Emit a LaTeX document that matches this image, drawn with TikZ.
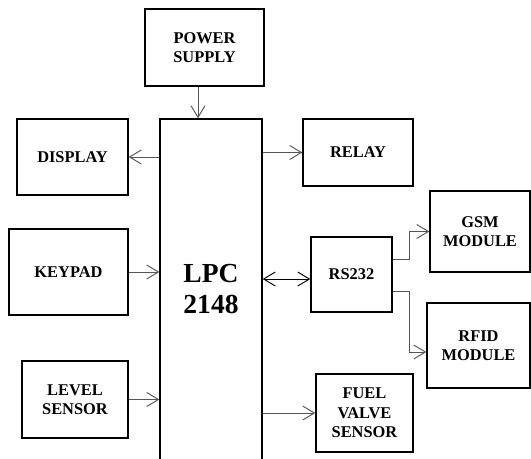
\documentclass[tikz,border=0pt]{standalone}
\usepackage{fontspec}
\setmainfont{Liberation Serif}
\usepackage{tikz}
\usetikzlibrary{arrows.meta,positioning,calc}
\definecolor{wiregray}{RGB}{85,85,85}

\begin{document}
\begin{tikzpicture}[x=0.03cm,y=-0.03cm,
    block/.style={draw,line width=1.2pt,align=center,font=\fontsize{14}{16.5}\selectfont\bfseries},
    link/.style={draw=wiregray,line width=0.8pt,-{Straight Barb[length=0.35cm,width=0.42cm]}},
    duplex/.style={draw=black,line width=0.8pt,{Straight Barb[length=0.35cm,width=0.42cm]}-{Straight Barb[length=0.35cm,width=0.42cm]}}]
    \useasboundingbox (0,0) rectangle (531,459);

    % Controller in the middle (runs off the bottom edge)
    \node[block,minimum width=3.06cm,minimum height=10.83cm] (lpc) at (211,299.5) {};
    \node[align=center,font=\fontsize{23.5}{27}\selectfont\bfseries] (lpcname) at (211,289) {LPC\\2148};

    % Power supply on top
    \node[block,minimum width=3.57cm,minimum height=2.31cm] (power) at (204.5,47.5) {POWER\\SUPPLY};

    % Left side: outputs and inputs
    \node[block,minimum width=3.33cm,minimum height=2.28cm] (display) at (72.5,157) {DISPLAY};
    \node[block,minimum width=3.57cm,minimum height=2.58cm] (keypad) at (68.5,272) {KEYPAD};
    \node[block,minimum width=3.18cm,minimum height=2.31cm] (level) at (75,399.5) {LEVEL\\SENSOR};

    % Right side
    \node[block,minimum width=3.3cm,minimum height=2.01cm] (relay) at (358,152.5) {RELAY};
    \node[block,minimum width=2.43cm,minimum height=2.25cm] (rs232) at (351.5,274.5) {RS232};
    \node[block,minimum width=2.91cm,minimum height=2.34cm] (fuel) at (364.5,413) {FUEL\\VALVE\\SENSOR};

    % Modules behind the serial link
    \node[block,minimum width=3.0cm,minimum height=2.43cm] (gsm) at (480,231.5) {GSM\\MODULE};
    \node[block,minimum width=3.09cm,minimum height=2.55cm] (rfid) at (478.5,345.5) {RFID\\MODULE};

    % Connections
    \draw[link] ([xshift=-0.195cm]power.south) -- ([xshift=-0.195cm]power.south |- lpc.north);
    \draw[link] (lpc.west |- display) -- (display.east);
    \draw[link] (keypad.east) -- (keypad.east -| lpc.west);
    \draw[link] (level.east) -- (level.east -| lpc.west);
    \draw[link] (lpc.east |- relay) -- (relay.west);
    \draw[duplex] ($(lpc.east |- rs232)+(0,4.5)$) -- ($(rs232.west)+(0,4.5)$);
    \draw[link] (lpc.east |- fuel) -- (fuel.west);
    \draw[link] ($(rs232.east)+(0,-15.5)$) -- ++(17,0) |- (gsm.west);
    \draw[link] ($(rs232.east)+(0,16.5)$) -- ++(17,0) |- ($(rfid.west)+(0,6.5)$);
\end{tikzpicture}
\end{document}
